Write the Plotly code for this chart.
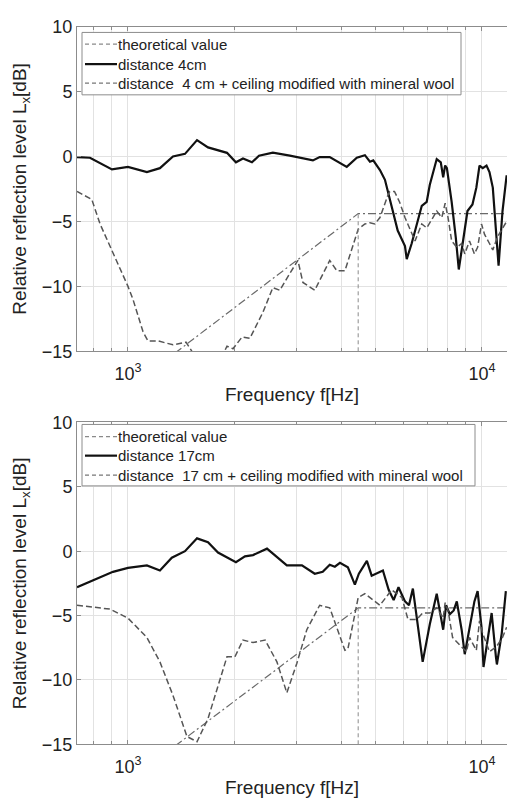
import plotly.graph_objects as go

# ---------------- data ----------------
# Top panel: distance 4 cm
top_solid_f = [718, 781, 901, 1000, 1131, 1231, 1340, 1449, 1567, 1683, 1904, 2018, 2113, 2240,
               2345, 2566, 2866, 3120, 3330, 3480, 3715, 4150, 4430, 4670, 4825, 4930, 5150,
               5320, 5420, 5600, 5780, 6060, 6130, 6330, 6540, 6760, 6980, 7120, 7450, 7650,
               7770, 7870, 7960, 8210, 8430, 8600, 8820, 9100, 9400, 9640, 9840, 10050, 10300,
               10500, 10730, 11000, 11140, 11430, 11740]
top_solid_L = [-0.05, -0.1, -1.0, -0.8, -1.2, -0.9, 0.0, 0.2, 1.26, 0.7, 0.28, -0.45, -0.15, -0.45,
               0.06, 0.3, 0.06, -0.17, -0.3, -0.05, -0.05, -0.8, -0.1, 0.1, -0.4, -0.3, -1.05,
               -1.8, -2.7, -4.2, -5.7, -6.9, -7.9, -6.7, -5.2, -3.8, -3.5, -2.2, -0.2, -0.45,
               -1.6, -0.7, -0.9, -3.5, -6.2, -8.7, -6.7, -4.2, -3.7, -2.4, -0.7, -0.9, -0.7,
               -1.2, -2.4, -6.0, -8.4, -4.2, -1.45]

top_wool_f = [718, 790, 834, 901, 1000, 1033, 1103, 1139, 1216, 1340, 1458, 1516, 1620, 1800,
              1904, 1980, 2100, 2210, 2405, 2566, 2685, 2866, 3020, 3120, 3370, 3715, 3890,
              4100, 4470, 4670, 4825, 4980, 5150, 5420, 5490, 5660, 5850, 6060, 6330, 6470,
              6760, 6980, 7270, 7450, 7700, 7870, 8020, 8210, 8490, 8760, 8940, 9220, 9520,
              9720, 9970, 10170, 10500, 10730, 11060, 11430, 11740]
top_wool_L = [-2.7, -3.3, -5.2, -7.2, -10.0, -11.0, -13.5, -14.2, -14.2, -14.5, -14.3, -15.0, -16.2, -16.0,
              -14.6, -14.8, -13.9, -14.0, -12.0, -10.1, -10.3, -9.0, -8.0, -9.7, -10.3, -8.0, -8.8,
              -8.8, -5.6, -5.2, -5.1, -5.2, -4.7, -3.0, -2.7, -2.7, -3.5, -4.7, -6.0, -6.5,
              -5.2, -5.5, -4.7, -4.2, -4.7, -3.6, -4.7, -6.5, -7.0, -6.7, -7.5, -6.5, -7.5,
              -7.0, -5.2, -6.0, -6.7, -7.2, -6.2, -5.5, -5.0]

# Bottom panel: distance 17 cm
bot_solid_f = [718, 818, 907, 1000, 1131, 1231, 1330, 1449, 1567, 1683, 1796, 2018, 2140, 2255,
               2470, 2810, 3100, 3370, 3550, 3715, 3840, 3970, 4180, 4375, 4490, 4730, 4880,
               5250, 5450, 5630, 5810, 6060, 6220, 6380, 6540, 6800, 7120, 7450, 7770, 7920,
               8110, 8320, 8490, 8760, 8940, 9220, 9520, 9720, 9970, 10100, 10370, 10650,
               10950, 11020, 11370, 11680]
bot_solid_L = [-2.8, -2.1, -1.6, -1.3, -1.1, -1.5, -0.5, 0.0, 1.0, 0.7, -0.1, -0.85, -0.4, -0.3,
               0.2, -1.1, -1.1, -1.75, -1.6, -1.05, -1.2, -0.9, -1.25, -2.6, -1.75, -0.75, -1.9,
               -1.5, -3.0, -3.8, -2.8, -3.9, -4.2, -2.9, -5.0, -8.6, -5.7, -3.3, -6.1, -4.2,
               -4.9, -4.6, -3.9, -6.1, -8.0, -6.1, -3.9, -3.1, -5.9, -9.0, -6.7, -4.8,
               -8.2, -8.8, -6.4, -3.1]

bot_wool_f = [718, 890, 1000, 1131, 1231, 1340, 1468, 1567, 1683, 1796, 1904, 2005, 2113, 2255,
              2440, 2635, 2810, 3000, 3200, 3480, 3715, 4100, 4180, 4470, 4670, 5150, 5560,
              5940, 6180, 6540, 6800, 7120, 7450, 7770, 7870, 8020, 8260, 8660, 9040, 9220,
              9640, 9840, 10050, 10500, 11000, 11430, 11740]
bot_wool_L = [-4.2, -4.5, -5.2, -6.7, -8.6, -11.2, -14.4, -14.8, -13.0, -10.5, -8.2, -8.2, -6.9, -7.1,
              -6.9, -8.6, -11.0, -8.7, -6.1, -4.2, -4.4, -7.7, -7.6, -3.6, -3.3, -4.2, -3.0,
              -3.6, -5.3, -5.3, -4.8, -4.8, -4.4, -5.2, -4.0, -4.6, -6.7, -7.3, -7.8, -6.7,
              -7.7, -5.4, -6.4, -7.8, -7.4, -6.7, -5.9]

# Theoretical value (same in both panels)
theory_f = [700, 4470, 12000]
theory_L = [-21.1, -4.4, -4.4]
cutoff_f = 4470
cutoff_L = -4.4

x_major_vals = [1000, 10000]
x_major_text = ["10<sup>3</sup>", "10<sup>4</sup>"]
x_minor_vals = [800, 900, 2000, 3000, 4000, 5000, 6000, 7000, 8000, 9000]
y_tickvals = [-15, -10, -5, 0, 5, 10]

top_names = ["theoretical value", "distance 4cm",
             "distance\u00a0 4 cm + ceiling modified with mineral wool"]
bot_names = ["theoretical value", "distance 17cm",
             "distance\u00a0 17 cm + ceiling modified with mineral wool"]

y_range = [-15, 10]
x_range_log = [2.856, 4.0707]

# ---------------- styles ----------------
W, H = 507, 805
FONT = "Liberation Sans, Arial, sans-serif"
TXT = "#222222"
AXC = "#8c8c8c"
GRID = "#e2e2e2"

style_theory = dict(color="#6a6a6a", width=1.2, dash="8px,3px,2px,3px")
style_solid = dict(color="#111111", width=2.2)
style_wool = dict(color="#555555", width=1.5, dash="6px,3px")
style_cut = dict(color="#8a8a8a", width=1, dash="4px,3px")

legend_styles = [dict(color="#8a8a8a", width=1.2, dash="4px,3px"),
                 dict(color="#111111", width=2.2),
                 dict(color="#777777", width=1.2, dash="4px,3px")]

fig = go.Figure()


def add_panel(xa, ya, solid_f, solid_L, wool_f, wool_L):
    fig.add_trace(go.Scatter(x=theory_f, y=theory_L, mode="lines", showlegend=False,
                             xaxis=xa, yaxis=ya, line=style_theory))
    fig.add_trace(go.Scatter(x=solid_f, y=solid_L, mode="lines", showlegend=False,
                             xaxis=xa, yaxis=ya, line=style_solid))
    fig.add_trace(go.Scatter(x=wool_f, y=wool_L, mode="lines", showlegend=False,
                             xaxis=xa, yaxis=ya, line=style_wool))
    fig.add_trace(go.Scatter(x=[cutoff_f, cutoff_f], y=[y_range[0], cutoff_L], mode="lines",
                             showlegend=False, xaxis=xa, yaxis=ya, line=style_cut))


def add_legend(names, left, top, right, bottom, rows):
    px = lambda v: v / W
    py = lambda v: 1 - v / H
    fig.add_shape(type="rect", xref="paper", yref="paper",
                  x0=px(left), x1=px(right), y0=py(bottom), y1=py(top),
                  line=dict(color=AXC, width=1), fillcolor="white", layer="above")
    for name, row, ls in zip(names, rows, legend_styles):
        fig.add_shape(type="line", xref="paper", yref="paper",
                      x0=px(left + 3), x1=px(left + 35), y0=py(row), y1=py(row),
                      line=ls, layer="above")
        fig.add_annotation(x=px(left + 34), y=py(row), xref="paper", yref="paper",
                           text=name, showarrow=False, xanchor="left", yanchor="middle",
                           font=dict(size=15, color=TXT, family=FONT))


add_panel("x", "y", top_solid_f, top_solid_L, top_wool_f, top_wool_L)
add_panel("x2", "y2", bot_solid_f, bot_solid_L, bot_wool_f, bot_wool_L)

add_legend(top_names, 82, 23, 461, 87, [35, 55.5, 75])
add_legend(bot_names, 82, 425, 475, 488, [437.5, 457, 477])

x0 = 77 / W
top_dom = [1 - 350 / H, 1 - 17 / H]
bot_dom = [1 - 753 / H, 1 - 423 / H]

xax = dict(type="log", range=x_range_log, domain=[x0, 1.0],
           tickmode="array", tickvals=x_major_vals, ticktext=x_major_text,
           showgrid=True, gridcolor=GRID, gridwidth=1,
           minor=dict(tickmode="array", tickvals=x_minor_vals, showgrid=True,
                      gridcolor=GRID, gridwidth=1, ticks="inside", ticklen=3, tickcolor=AXC),
           showline=True, linecolor=AXC, linewidth=1, mirror="ticks",
           ticks="inside", ticklen=4, tickcolor=AXC, ticklabelstandoff=6,
           tickfont=dict(size=18, color=TXT, family=FONT),
           title=dict(text="Frequency f[Hz]", font=dict(size=19, color=TXT, family=FONT),
                      standoff=4),
           zeroline=False)
yax = dict(range=y_range, tickvals=y_tickvals,
           showgrid=True, gridcolor=GRID, gridwidth=1,
           showline=True, linecolor=AXC, linewidth=1, mirror=False,
           ticks="inside", ticklen=4, tickcolor=AXC,
           tickfont=dict(size=18, color=TXT, family=FONT),
           title=dict(text="Relative reflection level L<sub>x</sub>[dB]",
                      font=dict(size=19, color=TXT, family=FONT), standoff=10),
           zeroline=False)

fig.update_layout(
    width=W, height=H,
    margin=dict(l=0, r=0, t=0, b=0),
    paper_bgcolor="white", plot_bgcolor="white",
    font=dict(family=FONT, color=TXT),
    showlegend=False,
    xaxis=dict(**xax, anchor="y"),
    yaxis=dict(**yax, domain=top_dom, anchor="x"),
    xaxis2=dict(**xax, anchor="y2"),
    yaxis2=dict(**yax, domain=bot_dom, anchor="x2"),
)

fig.write_html("out.html")
